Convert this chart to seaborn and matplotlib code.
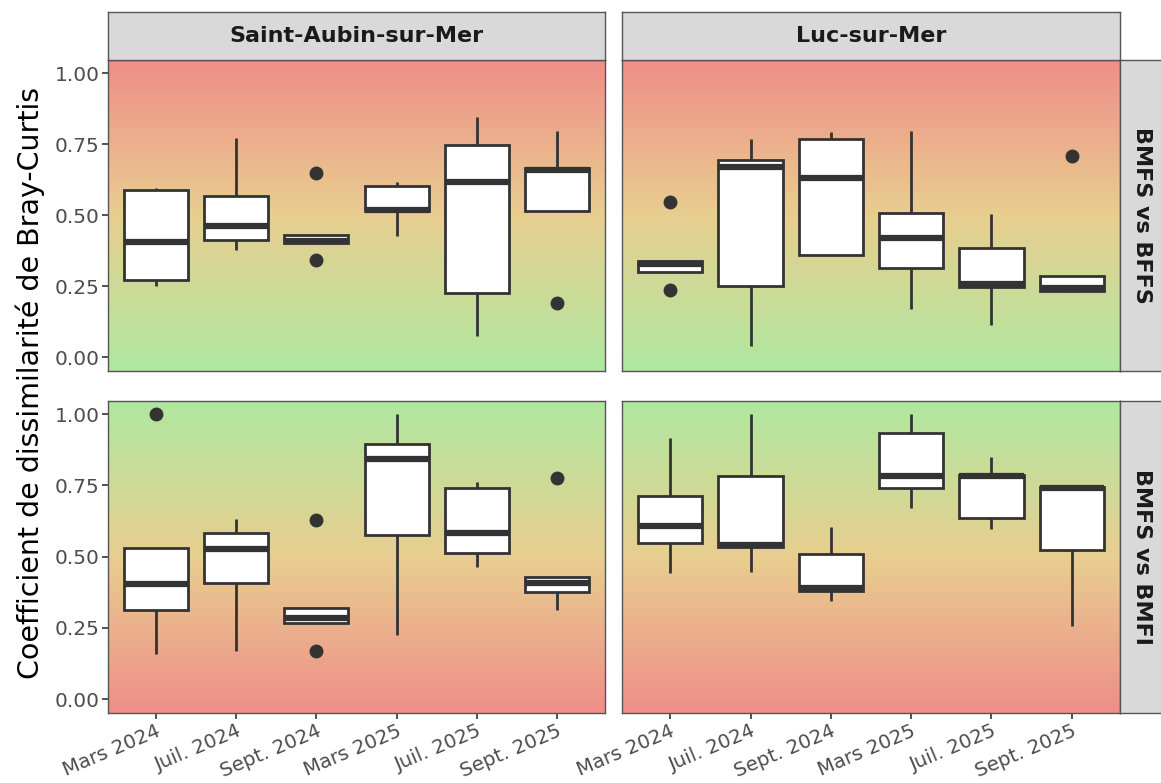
import numpy as np
import pandas as pd
import matplotlib
matplotlib.use("Agg")
import matplotlib.pyplot as plt
from matplotlib.colors import LinearSegmentedColormap
import seaborn as sns

sns.set_theme(style="white")
plt.rcParams['font.family'] = ['DejaVu Sans']

sites = ["Saint-Aubin-sur-Mer", "Luc-sur-Mer"]
comparisons = ["BMFS vs BFFS", "BMFS vs BMFI"]
dates = ["Mars 2024", "Juil. 2024", "Sept. 2024", "Mars 2025", "Juil. 2025", "Sept. 2025"]

sa_bffs = [
    [0.252, 0.270, 0.405, 0.589, 0.595],
    [0.376, 0.411, 0.460, 0.566, 0.771],
    [0.342, 0.401, 0.407, 0.431, 0.649],
    [0.425, 0.513, 0.519, 0.604, 0.617],
    [0.073, 0.225, 0.617, 0.746, 0.844],
    [0.189, 0.513, 0.657, 0.664, 0.797],
]
luc_bffs = [
    [0.235, 0.300, 0.328, 0.337, 0.545],
    [0.038, 0.251, 0.671, 0.695, 0.768],
    [0.359, 0.359, 0.629, 0.768, 0.792],
    [0.169, 0.312, 0.418, 0.509, 0.797],
    [0.113, 0.246, 0.258, 0.384, 0.505],
    [0.228, 0.231, 0.242, 0.286, 0.708],
]
sa_bmfi = [
    [0.157, 0.313, 0.404, 0.529, 1.000],
    [0.170, 0.406, 0.527, 0.583, 0.632],
    [0.167, 0.267, 0.285, 0.321, 0.628],
    [0.225, 0.576, 0.841, 0.895, 1.000],
    [0.463, 0.514, 0.583, 0.739, 0.760],
    [0.313, 0.375, 0.409, 0.430, 0.775],
]
luc_bmfi = [
    [0.441, 0.549, 0.609, 0.711, 0.917],
    [0.445, 0.535, 0.542, 0.782, 1.000],
    [0.344, 0.379, 0.389, 0.508, 0.605],
    [0.670, 0.742, 0.782, 0.933, 1.000],
    [0.597, 0.635, 0.782, 0.787, 0.851],
    [0.256, 0.523, 0.739, 0.745, 0.750],
]

panel_data = {
    ("BMFS vs BFFS", "Saint-Aubin-sur-Mer"): sa_bffs,
    ("BMFS vs BFFS", "Luc-sur-Mer"): luc_bffs,
    ("BMFS vs BMFI", "Saint-Aubin-sur-Mer"): sa_bmfi,
    ("BMFS vs BMFI", "Luc-sur-Mer"): luc_bmfi,
}

rows = []
for (comp, site), groups in panel_data.items():
    for d, vals in zip(dates, groups):
        for v in vals:
            rows.append({"comparaison": comp, "site": site, "date": d, "value": v})
df = pd.DataFrame(rows)

W, H = 1161, 783
fig = plt.figure(figsize=(W / 100, H / 100), dpi=100)

red = "#EF8E89"
yellow = "#E8CE90"
green = "#AFE8A0"
cmap_top = LinearSegmentedColormap.from_list("rg", [green, yellow, red])  # bottom->top
cmap_bot = LinearSegmentedColormap.from_list("gr", [red, yellow, green])

col_x = [(108, 605), (622, 1120)]
row_y = [(60, 371), (401, 713)]
edge = "#333333"
ylo, yhi = -0.049, 1.046

def fx(px):
    return px / W

def fy(py):
    return 1 - py / H

for r, comp in enumerate(comparisons):
    for c, site in enumerate(sites):
        x0, x1 = col_x[c]
        y0, y1 = row_y[r]
        ax = fig.add_axes([fx(x0), fy(y1), fx(x1) - fx(x0), (y1 - y0) / H])
        sub = df[(df.comparaison == comp) & (df.site == site)]
        grad = np.linspace(0, 1, 256).reshape(-1, 1)
        ax.imshow(grad, cmap=cmap_top if r == 0 else cmap_bot, origin="lower",
                  extent=[-0.6, 5.6, ylo, yhi], aspect="auto", zorder=0,
                  interpolation="bilinear")
        sns.boxplot(data=sub, x="date", y="value", order=dates, ax=ax,
                    color="white", linecolor=edge, linewidth=2.0, width=0.8,
                    showcaps=False, whis=1.5,
                    medianprops=dict(linewidth=4.5, color=edge, zorder=5),
                    boxprops=dict(facecolor="white", edgecolor=edge, zorder=3),
                    whiskerprops=dict(color=edge, zorder=2),
                    flierprops=dict(marker="o", markerfacecolor=edge,
                                    markeredgecolor=edge, markersize=9))
        ax.set_xlim(-0.6, 5.6)
        ax.set_ylim(ylo, yhi)
        ax.set_xlabel("")
        ax.set_ylabel("")
        ax.set_yticks([0, 0.25, 0.5, 0.75, 1.0])
        for s in ax.spines.values():
            s.set_color("#555555")
            s.set_linewidth(1.0)
        ax.tick_params(axis="both", which="both", length=4, width=1.2,
                       color="#333333", direction="out", bottom=True, left=True,
                       labelsize=14.5, labelcolor="#4D4D4D", pad=2)
        if c == 0:
            ax.set_yticklabels(["0.00", "0.25", "0.50", "0.75", "1.00"])
        else:
            ax.tick_params(axis="y", left=False, labelleft=False)
        if r == 1:
            ax.set_xticks(range(len(dates)))
            ax.set_xticklabels(dates, rotation=23, ha="right",
                               rotation_mode="anchor", fontsize=14.2)
        else:
            ax.tick_params(axis="x", bottom=False, labelbottom=False)

        # top strips
        if r == 0:
            sax = fig.add_axes([fx(x0), fy(60), fx(x1) - fx(x0), 48 / H])
            sax.set_xticks([]); sax.set_yticks([])
            sax.set_facecolor("#D9D9D9")
            for s in sax.spines.values():
                s.set_color("#555555"); s.set_linewidth(1.0)
            sax.text(0.5, 0.5, site, ha="center", va="center",
                     fontsize=16, fontweight="bold", color="#1A1A1A",
                     transform=sax.transAxes)
        # right strips
        if c == 1:
            rax = fig.add_axes([fx(1120), fy(y1), 45 / W, (y1 - y0) / H])
            rax.set_xticks([]); rax.set_yticks([])
            rax.set_facecolor("#D9D9D9")
            for s in rax.spines.values():
                s.set_color("#555555"); s.set_linewidth(1.0)
            rax.text(0.5, 0.5, comp, ha="center", va="center", rotation=-90,
                     fontsize=16, fontweight="bold", color="#1A1A1A",
                     transform=rax.transAxes)

fig.text(fx(30), fy(383), "Coefficient de dissimilarité de Bray-Curtis",
         rotation=90, ha="center", va="center", fontsize=20.5, color="#000000")

fig.savefig("out.png", dpi=100)
